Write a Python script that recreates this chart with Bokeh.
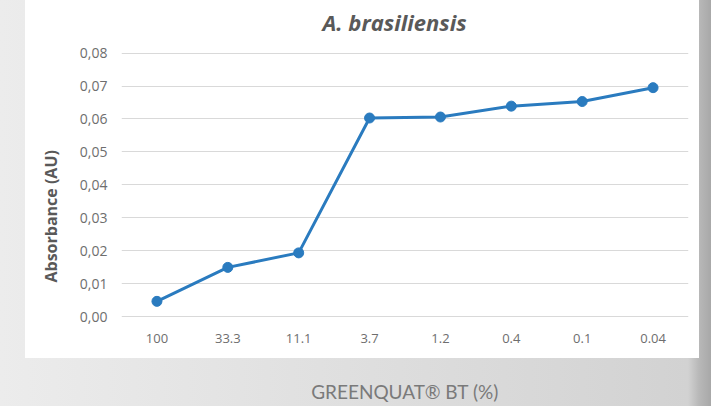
from bokeh.plotting import figure
from bokeh.models import ColumnDataSource, Range1d, FixedTicker, CustomJSTickFormatter, Title
from bokeh.embed import file_html
from bokeh.resources import INLINE

# ---- data ----
concentrations = ["100", "33.3", "11.1", "3.7", "1.2", "0.4", "0.1", "0.04"]
absorbance = [0.0047, 0.0150, 0.0194, 0.0603, 0.0606, 0.0639, 0.0653, 0.0695]
y_ticks = [0.0, 0.01, 0.02, 0.03, 0.04, 0.05, 0.06, 0.07, 0.08]

title_text = "A. brasiliensis"
y_label = "Absorbance (AU)"
x_label = "GREENQUAT® BT (%)"

src = ColumnDataSource(data=dict(x=concentrations, y=absorbance))

LINE = "#2a7bbf"
TXT = "#595959"
TICK = "#6e6e6e"

p = figure(
    width=711, height=406,
    x_range=concentrations,
    y_range=Range1d(-0.0005, 0.0835),
    output_backend="svg", toolbar_location=None,
    min_border_left=121, min_border_right=23,
    min_border_top=41, min_border_bottom=88,
    border_fill_color=None, background_fill_color=None,
    outline_line_color=None,
)
p.styles = {
    "background": "linear-gradient(#ffffff,#ffffff) 25px 0px / 674px 358px no-repeat, "
                  "linear-gradient(90deg, #ececec 0px, #dddddd 400px, #d2d2d2 688px, #b8b8b8 699px, #a8a8a8 711px)"
}

p.title = Title(text=title_text, align="left", offset=201, standoff=9,
                text_font="Open Sans", text_font_style="bold italic",
                text_font_size="22px", text_color=TXT)

p.line("x", "y", source=src, line_color=LINE, line_width=3)
p.scatter("x", "y", source=src, size=10, fill_color=LINE, line_color=LINE)

# grid
p.xgrid.grid_line_color = None
p.ygrid.grid_line_color = "#d9d9d9"
p.ygrid.grid_line_width = 1
p.yaxis.ticker = FixedTicker(ticks=y_ticks)
p.yaxis.formatter = CustomJSTickFormatter(code="return tick.toFixed(2).replace('.', ',');")

for ax in (p.xaxis[0], p.yaxis[0]):
    ax.axis_line_color = None
    ax.major_tick_line_color = None
    ax.minor_tick_line_color = None
    ax.major_tick_out = 0
    ax.major_tick_in = 0
    ax.minor_tick_out = 0
    ax.major_label_text_font = "Open Sans"
    ax.major_label_text_color = TICK

p.yaxis.major_label_text_font_size = "14px"
p.xaxis.major_label_text_font_size = "13px"
p.yaxis.major_label_standoff = 14
p.xaxis.major_label_standoff = 15

p.xaxis.axis_label = x_label
p.xaxis.axis_label_text_font = "Lato"
p.xaxis.axis_label_text_font_style = "normal"
p.xaxis.axis_label_text_font_size = "19px"
p.xaxis.axis_label_text_color = "#7a7a7a"
p.xaxis.axis_label_standoff = 34

p.add_layout(Title(text=y_label, align="left", offset=36, standoff=30,
                   text_font="Open Sans", text_font_style="bold",
                   text_font_size="16px", text_color=TXT), "left")

open("out.html", "w").write(file_html(p, INLINE))
